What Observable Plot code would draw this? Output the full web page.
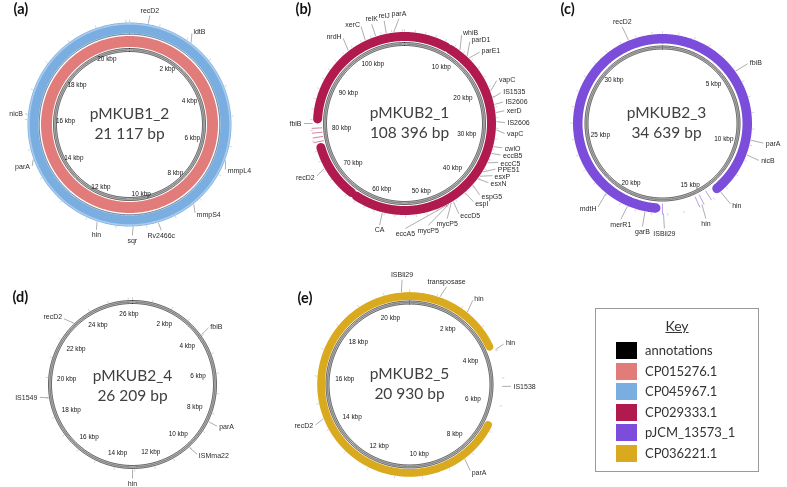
<!DOCTYPE html>
<html><head><meta charset="utf-8">
<script src="https://cdn.jsdelivr.net/npm/d3@7"></script>
<script src="https://cdn.jsdelivr.net/npm/@observablehq/plot@0.6"></script>
<style>
body{margin:0;background:#fff;}
#wrap{position:relative;width:787px;height:487px;overflow:hidden;}
#wrap svg{filter:saturate(1);}
#wrap svg g[aria-label="text"]{filter:grayscale(1);}
#key{position:absolute;left:595px;top:308px;width:164px;height:164px;border:1px solid #9a9a9a;box-sizing:border-box;font-family:Lato,"Open Sans",sans-serif;color:#333;}
#key .kt{position:absolute;left:0;width:100%;top:8px;text-align:center;font-size:14px;text-decoration:underline;}
#key .row{position:absolute;left:20px;height:17px;}
#key .sw{position:absolute;left:0;top:0;width:21px;height:17px;}
#key .lb{position:absolute;left:29px;top:0;line-height:17px;font-size:13px;white-space:nowrap;}
</style></head><body><div id="wrap"></div>
<script>
const W = 787, H = 487;
// ---------- data ----------
const plasmids = ["pMKUB1_2","pMKUB2_1","pMKUB2_3","pMKUB2_4","pMKUB2_5"];
const plasmidLengths = [21117,108396,34639,26209,20930];
const lengthLabels = ["21 117 bp","108 396 bp","34 639 bp","26 209 bp","20 930 bp"];
const panelLetters = ["(a)","(b)","(c)","(d)","(e)"];
const keyLabels = ["annotations","CP015276.1","CP045967.1","CP029333.1","pJCM_13573_1","CP036221.1"];
const keyColors = ["#000000","#e17c7a","#7aaee0","#b01a4e","#7c4ddb","#d9a91e"];

// BLAST hit spans [plasmid, reference, start bp, end bp]
const hits = [
  ["pMKUB1_2","CP045967.1",0,21117],
  ["pMKUB1_2","CP015276.1",0,21117],
  ["pMKUB2_1","CP029333.1",0,8580],
  ["pMKUB2_1","CP029333.1",9490,64300],
  ["pMKUB2_1","CP029333.1",65500,76480],
  ["pMKUB2_1","CP029333.1",82200,108396],
  ["pMKUB2_3","pJCM_13573_1",0,13470],
  ["pMKUB2_3","pJCM_13573_1",17760,34639],
  ["pMKUB2_5","CP036221.1",0,3760],
  ["pMKUB2_5","CP036221.1",6820,20930]
];
// very short hits [plasmid, reference, bp]
const shortHits = [
  ["pMKUB2_1","CP029333.1",77690],["pMKUB2_1","CP029333.1",78590],
  ["pMKUB2_1","CP029333.1",79490],["pMKUB2_1","CP029333.1",80390],
  ["pMKUB2_3","pJCM_13573_1",14180],["pMKUB2_3","pJCM_13573_1",14700],
  ["pMKUB2_3","pJCM_13573_1",15010],["pMKUB2_3","pJCM_13573_1",17320]
];
// gene labels [name, gene bp, label bp]
const genes_pMKUB1_2 = [["recD2",616,645],["ldtB",2170,2150],["mmpL4",6487,6652],["mmpS4",8280,8280],
  ["Rv2466c",9600,9545],["sqr",10440,10470],["hin",11640,11615],["parA",14665,14580],["nicB",16160,16160]];
const genes_pMKUB2_1 = [["nrdH",97060,97070],["xerC",100800,100680],["relK",102900,102800],["relJ",104960,104960],
  ["parA",106380,107460],["whiB",11170,10420],["parD1",12920,12200],["parE1",13430,14580],["vapC",20900,20020],
  ["IS1535",22190,22100],["IS2606",23490,23630],["xerD",25050,25050],["IS2606",26760,26950],["vapC",28310,28690],
  ["cwlO",31500,31020],["eccB5",32820,32220],["eccC5",34720,33480],["PPE51",36670,34660],["esxP",37640,35830],
  ["esxN",38240,37150],["espG5",39740,39630],["espI",41790,41160],["eccD5",44560,44320],["mycP5",45000,46820],
  ["mycP5",45470,50190],["eccA5",45900,54040],["CA",58400,58410],["recD2",72480,72480],["fbiB",81300,81300]];
const genes_pMKUB2_3 = [["recD2",32500,32470],["fbiB",5230,5410],["parA",9690,9670],["nicB",10630,10590],
  ["hin",13430,13320],["hin",14820,14970],["ISBli29",17260,17220],["garB",18400,18380],["merR1",19530,19570],["mdtH",21070,21070]];
const genes_pMKUB2_4 = [["recD2",23020,22780],["fbiB",3946,3946],["parA",8450,8410],["ISMma22",10040,9920],
  ["hin",13100,13105],["IS1549",19000,19100]];
const genes_pMKUB2_5 = [["ISBli29",20640,20690],["transposase",1115,1215],["hin",2245,2240],["hin",3950,3950],
  ["IS1538",5300,5290],["parA",8340,8330],["recD2",14440,14410]];
// scale labels (kbp)
const ticks_pMKUB1_2 = [2,4,6,8,10,12,14,16,18,20];
const ticks_pMKUB2_1 = [10,20,30,40,50,60,70,80,90,100];
const ticks_pMKUB2_3 = [5,10,15,20,25,30];
const ticks_pMKUB2_4 = [2,4,6,8,10,12,14,16,18,20,22,24,26];
const ticks_pMKUB2_5 = [2,4,6,8,10,12,14,16,18,20];

// ---------- layout ----------
const layout = {
  pMKUB1_2:{cx:129,cy:124,rOut:102,rings:[{ref:"CP045967.1",r0:91,r1:102},{ref:"CP015276.1",r0:77.5,r1:88.5}],dark:90.3,ann:[76,73],R:107,k:9,tr:72,tc:8,minor:1000,tx:0,ty:0,lx:13,ly:9},
  pMKUB2_1:{cx:404,cy:123,rOut:91.5,rings:[{ref:"CP029333.1",r0:82.5,r1:91.5}],ann:[81,78],R:103,k:7,tr:72,tc:9,minor:2000,tx:5,ty:0,lx:295,ly:9},
  pMKUB2_3:{cx:662,cy:123,rOut:89.5,rings:[{ref:"pJCM_13573_1",r0:80,r1:89.5}],ann:[77.5,74.5],R:105,k:5,tr:71,tc:8,minor:1000,tx:4,ty:0,lx:560,ly:9},
  pMKUB2_4:{cx:132,cy:384,rOut:84.5,rings:[],ann:[84,81],R:96,k:3,tr:71,tc:5,minor:1000,tx:0,ty:1.5,lx:12,ly:297},
  pMKUB2_5:{cx:409,cy:384,rOut:92.3,rings:[{ref:"CP036221.1",r0:84.5,r1:92.3}],ann:[83.5,80.5],R:104,k:6,tr:71,tc:6,minor:1000,tx:0,ty:0,lx:297,ly:298}
};
const genesBy = {pMKUB1_2:genes_pMKUB1_2,pMKUB2_1:genes_pMKUB2_1,pMKUB2_3:genes_pMKUB2_3,pMKUB2_4:genes_pMKUB2_4,pMKUB2_5:genes_pMKUB2_5};
const ticksBy = {pMKUB1_2:ticks_pMKUB1_2,pMKUB2_1:ticks_pMKUB2_1,pMKUB2_3:ticks_pMKUB2_3,pMKUB2_4:ticks_pMKUB2_4,pMKUB2_5:ticks_pMKUB2_5};
const LEN = Object.fromEntries(plasmids.map((p,i)=>[p,plasmidLengths[i]]));

function polar(p,pos,r){const g=layout[p];const a=2*Math.PI*pos/LEN[p];const s=Math.sin(a),c=Math.cos(a);return {x:g.cx+r*s,y:g.cy-r*c,s,c};}
function arc(p,s,e,r,z,extra){const n=Math.max(2,Math.ceil((e-s)/LEN[p]*720));const out=[];for(let i=0;i<=n;i++){const q=polar(p,s+(e-s)*i/n,r);out.push({x:q.x,y:q.y,z,...extra});}return out;}

const bandPts=[];
hits.forEach(([p,ref,s,e],i)=>{layout[p].rings.forEach((rg,j)=>{if(rg.ref!==ref)return;
  bandPts.push(...arc(p,s,e,(rg.r0+rg.r1)/2,`${i}-${j}`,{ref,w:rg.r1-rg.r0}));});});
const bandMarks=d3.groups(bandPts,d=>d.w).map(([w,arr])=>Plot.line(arr,{x:"x",y:"y",z:"z",stroke:"ref",strokeWidth:w}));
const hiPts=arc("pMKUB1_2",0,LEN.pMKUB1_2,100.6,"hi",{});
const darkPts=arc("pMKUB1_2",0,LEN.pMKUB1_2,layout.pMKUB1_2.dark,"dk",{});
const shortRows=shortHits.map(([p,ref,pos])=>{const rg=layout[p].rings[0];const a=polar(p,pos,rg.r0);const b=polar(p,pos,rg.r1+1.5);return {x1:a.x,y1:a.y,x2:b.x,y2:b.y,ref};});
const annPts=[],annMid=[];
plasmids.forEach(p=>{const g=layout[p];g.ann.forEach((r,j)=>annPts.push(...arc(p,0,LEN[p],r,p+j,{})));
  annMid.push(...arc(p,0,LEN[p],(g.ann[0]+g.ann[1])/2,p,{}));});
const minorRows=[];
plasmids.forEach(p=>{const g=layout[p];for(let b=0;b<LEN[p];b+=g.minor){const a=polar(p,b,g.rOut+0.3),c=polar(p,b,g.rOut+2.8);minorRows.push({x1:a.x,y1:a.y,x2:c.x,y2:c.y});}});
const tickRows=[];
plasmids.forEach(p=>{const g=layout[p];ticksBy[p].forEach(kb=>{const q=polar(p,kb*1000,g.tr);const r=g.tr-g.tc*Math.abs(q.s);const q2=polar(p,kb*1000,r);tickRows.push({x:q2.x,y:q2.y,text:`${kb} kbp`});});});
const labelRows=[];
plasmids.forEach(p=>{const g=layout[p];genesBy[p].forEach(([name,gp,lp])=>{
  const a=polar(p,gp,g.rOut+0.5),b=polar(p,lp,g.R);
  const lx=b.x,ly=b.y-g.k*b.c;
  const anchor=Math.abs(b.s)<0.42?"middle":(b.s>0?"start":"end");
  let ex,ey;
  if(anchor==="middle"){ex=lx;ey=ly+(b.c>0?5:-5);}else{ex=lx-2.5*b.s;ey=ly+2.5*b.c;}
  labelRows.push({name,anchor,lx,ly,sx:a.x,sy:a.y,ex,ey});});});
const panelRows=plasmids.map((p,i)=>({name:p,len:lengthLabels[i],letter:panelLetters[i],...layout[p]}));

const geneFont="Liberation Sans, Arial, sans-serif";
const labelMarks=["start","middle","end"].map(an=>Plot.text(labelRows.filter(d=>d.anchor===an),{x:"lx",y:"ly",text:"name",textAnchor:an,fontSize:7,fontFamily:geneFont,fill:"#2a2a2a"}));

const chart=Plot.plot({
  width:W,height:H,margin:0,
  x:{domain:[0,W],range:[0,W],axis:null},
  y:{domain:[0,H],range:[0,H],axis:null},
  color:{domain:keyLabels,range:keyColors},
  marks:[
    Plot.link(minorRows,{x1:"x1",y1:"y1",x2:"x2",y2:"y2",stroke:"#b8b8b8",strokeWidth:0.6}),
    ...bandMarks,
    Plot.line(hiPts,{x:"x",y:"y",z:"z",stroke:"#a9cbee",strokeWidth:1.6}),
    Plot.line(darkPts,{x:"x",y:"y",z:"z",stroke:"#3f5d7c",strokeWidth:0.9}),
    Plot.link(shortRows,{x1:"x1",y1:"y1",x2:"x2",y2:"y2",stroke:"ref",strokeWidth:0.9,strokeOpacity:0.6}),
    Plot.line(annMid,{x:"x",y:"y",z:"z",stroke:"#8a8a8a",strokeWidth:1.6}),
    Plot.line(annPts,{x:"x",y:"y",z:"z",stroke:"#111",strokeWidth:0.75}),
    Plot.link(labelRows,{x1:"sx",y1:"sy",x2:"ex",y2:"ey",stroke:"#777",strokeWidth:0.6}),
    ...labelMarks,
    Plot.text(tickRows,{x:"x",y:"y",text:"text",fontSize:6.4,fontFamily:geneFont,fill:"#111"}),
    Plot.text(panelRows,{x:d=>d.cx+d.tx,y:d=>d.cy-10+d.ty,text:"name",fontSize:15.5,fontFamily:"Lato, sans-serif",fill:"#404040"}),
    Plot.text(panelRows,{x:d=>d.cx+d.tx,y:d=>d.cy+10+d.ty,text:"len",fontSize:15.5,fontFamily:"Lato, sans-serif",fill:"#404040"}),
    Plot.text(panelRows,{x:"lx",y:"ly",text:"letter",textAnchor:"start",fontSize:14.5,fontWeight:"bold",fontFamily:"Lato, sans-serif",fill:"#111"})
  ]
});
const wrap=document.getElementById("wrap");
wrap.appendChild(chart);
const key=document.createElement("div");key.id="key";
let html='<div class="kt">Key</div>';
keyLabels.forEach((k,i)=>{html+=`<div class="row" style="top:${33+i*20.6}px"><div class="sw" style="background:${keyColors[i]}"></div><div class="lb">${k}</div></div>`;});
key.innerHTML=html;wrap.appendChild(key);
</script></body></html>
